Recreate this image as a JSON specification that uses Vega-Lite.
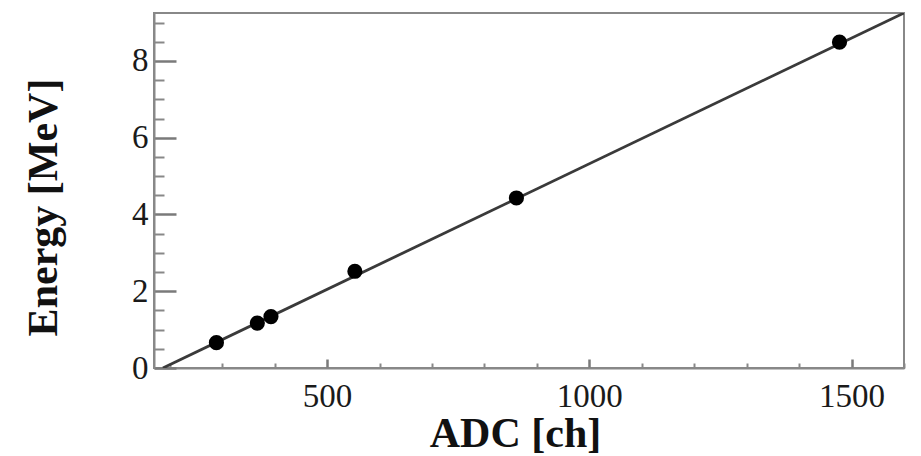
{
  "$schema": "https://vega.github.io/schema/vega-lite/v6.json",
  "width": 750,
  "height": 355,
  "autosize": {"type": "none"},
  "padding": {"left": 154, "top": 13, "right": 17, "bottom": 88},
  "background": "white",
  "config": {
    "view": {"stroke": "#888888", "strokeWidth": 2},
    "axis": {
      "grid": false,
      "domainColor": "#888888",
      "domainWidth": 2,
      "tickColor": "#888888",
      "tickWidth": 2,
      "labelFont": "Liberation Serif",
      "labelFontSize": 33,
      "labelColor": "#1a1a1a",
      "titleFont": "Liberation Serif",
      "titleFontSize": 42,
      "titleFontWeight": "bold",
      "titleColor": "#111111"
    }
  },
  "datasets": {
    "fit": [
      {"adc": 187, "energy": 0},
      {"adc": 1600, "energy": 9.25}
    ],
    "points": [
      {"adc": 289, "energy": 0.66},
      {"adc": 367, "energy": 1.17},
      {"adc": 393, "energy": 1.34},
      {"adc": 553, "energy": 2.52},
      {"adc": 861, "energy": 4.43},
      {"adc": 1477, "energy": 8.49}
    ]
  },
  "resolve": {"axis": {"x": "independent", "y": "independent"}},
  "layer": [
    {
      "data": {"name": "fit"},
      "mark": {"type": "line", "opacity": 0},
      "encoding": {
        "x": {
          "field": "adc", "type": "quantitative",
          "scale": {"domain": [170, 1600], "nice": false, "zero": false},
          "axis": {
            "orient": "bottom",
            "values": [500, 1000, 1500],
            "tickSize": -9,
            "tickColor": "#7a7a7a",
            "tickWidth": 2.5,
            "labels": false,
            "domain": false,
            "title": null
          }
        },
        "y": {
          "field": "energy", "type": "quantitative",
          "scale": {"domain": [0, 9.25], "nice": false},
          "axis": {
            "orient": "left",
            "values": [0, 2, 4, 6, 8],
            "tickSize": -22,
            "tickColor": "#7a7a7a",
            "tickWidth": 2.5,
            "labels": false,
            "domain": false,
            "title": null
          }
        }
      }
    },
    {
      "data": {"name": "fit"},
      "mark": {"type": "line", "color": "#3a3a3a", "strokeWidth": 2.8, "clip": true},
      "encoding": {
        "x": {
          "field": "adc", "type": "quantitative",
          "axis": {
            "orient": "bottom",
            "values": [500, 1000, 1500],
            "format": "d",
            "ticks": false,
            "labelPadding": 12,
            "labelFlush": false,
            "title": "ADC [ch]",
            "titleX": 361,
            "titleY": 78,
            "titleBaseline": "alphabetic",
            "titleAlign": "center"
          }
        },
        "y": {
          "field": "energy", "type": "quantitative",
          "axis": {
            "orient": "left",
            "values": [0, 2, 4, 6, 8],
            "format": "d",
            "ticks": false,
            "labelPadding": 6,
            "labelFlush": false,
            "title": "Energy [MeV]",
            "titleX": -98,
            "titleY": 194,
            "titleAngle": -90,
            "titleBaseline": "alphabetic",
            "titleAlign": "center"
          }
        }
      }
    },
    {
      "data": {"name": "points"},
      "mark": {"type": "point", "filled": true, "color": "#000000", "size": 230, "opacity": 1},
      "encoding": {
        "x": {
          "field": "adc", "type": "quantitative",
          "axis": {
            "orient": "bottom",
            "values": [200, 300, 400, 600, 700, 800, 900, 1100, 1200, 1300, 1400, 1600],
            "tickSize": -5,
            "labels": false,
            "domain": false,
            "title": null
          }
        },
        "y": {
          "field": "energy", "type": "quantitative",
          "axis": {
            "orient": "left",
            "values": [0.5, 1, 1.5, 2.5, 3, 3.5, 4.5, 5, 5.5, 6.5, 7, 7.5, 8.5, 9],
            "tickSize": -10,
            "labels": false,
            "domain": false,
            "title": null
          }
        }
      }
    }
  ]
}
